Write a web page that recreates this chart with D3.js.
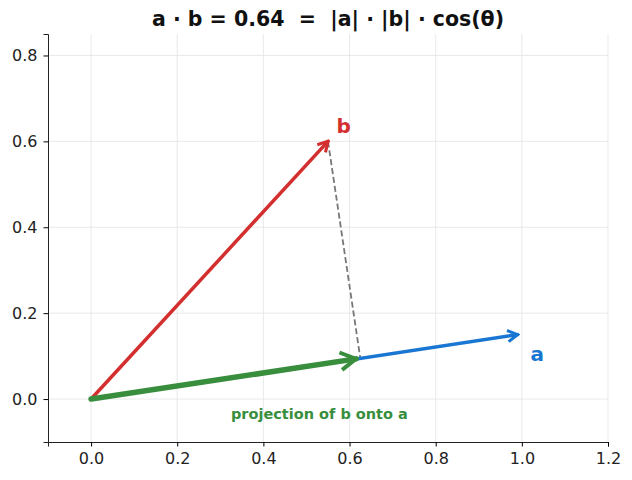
<!DOCTYPE html>
<html><head><meta charset="utf-8">
<script src="https://cdn.jsdelivr.net/npm/d3@7"></script>
<style>body{margin:0;background:#fff}text{font-family:"DejaVu Sans",sans-serif}</style>
</head><body><svg id="c" width="632" height="480"></svg>
<script>
// vectors
const vecA = [0.99, 0.15];
const vecB = [0.55, 0.60];
const projB = [0.625, 0.095];
const xTicks = [0, 0.2, 0.4, 0.6, 0.8, 1.0, 1.2];
const yTicks = [0, 0.2, 0.4, 0.6, 0.8];

const svg = d3.select('#c');
const x = d3.scaleLinear().domain([-0.1, 1.2]).range([48, 608]);
const y = d3.scaleLinear().domain([-0.1, 0.85]).range([442, 34]);

// grid
svg.append('g').selectAll('line').data(xTicks).join('line')
  .attr('x1', d => x(d)).attr('x2', d => x(d)).attr('y1', 34).attr('y2', 442)
  .attr('stroke', '#e3e3e3').attr('stroke-width', 0.8);
svg.append('g').selectAll('line').data(yTicks).join('line')
  .attr('y1', d => y(d)).attr('y2', d => y(d)).attr('x1', 48).attr('x2', 608)
  .attr('stroke', '#e3e3e3').attr('stroke-width', 0.8);

const xAxis = svg.append('g').attr('transform', 'translate(0,442)')
  .call(d3.axisBottom(x).tickValues(xTicks).tickFormat(d3.format('.1f')).tickSize(4.5).tickPadding(6));
const yAxis = svg.append('g').attr('transform', 'translate(48,0)')
  .call(d3.axisLeft(y).tickValues(yTicks).tickFormat(d3.format('.1f')).tickSize(4.5).tickPadding(6));
[xAxis, yAxis].forEach(g => {
  g.selectAll('text').attr('font-size', 16).attr('fill', '#222').style('font-family', '"DejaVu Sans",sans-serif');
  g.select('.domain').attr('stroke', '#222');
});

const defs = svg.append('defs');
function marker(id, color, sw) {
  defs.append('marker').attr('id', id).attr('viewBox', '0 0 10 10').attr('refX', 8.5).attr('refY', 5)
    .attr('markerWidth', 4).attr('markerHeight', 4).attr('orient', 'auto').attr('markerUnits', 'strokeWidth')
    .append('path').attr('d', 'M1.5,1 L8.5,5 L1.5,9').attr('fill', 'none').attr('stroke', color)
    .attr('stroke-width', sw).attr('stroke-linejoin', 'miter');
}
marker('mr', '#d32f2f', 2.2); marker('mb', '#1976d2', 2.2); marker('mg', '#388e3c', 1.8);

function arrow(v, color, w, m) {
  svg.append('line').attr('x1', x(0)).attr('y1', y(0)).attr('x2', x(v[0])).attr('y2', y(v[1]))
    .attr('stroke', color).attr('stroke-width', w).attr('stroke-linecap', 'round').attr('marker-end', `url(#${m})`);
}
// dashed perpendicular
svg.append('line').attr('x1', x(vecB[0])).attr('y1', y(vecB[1])).attr('x2', x(projB[0])).attr('y2', y(projB[1]))
  .attr('stroke', '#777').attr('stroke-width', 1.8).attr('stroke-dasharray', '6,3');
arrow(vecA, '#1976d2', 3.5, 'mb');
arrow(vecB, '#d32f2f', 3.5, 'mr');
arrow([projB[0] - 0.01, projB[1] - 0.0015], '#388e3c', 5.5, 'mg');

svg.append('text').attr('x', x(0.57)).attr('y', y(0.635)).attr('dy', '0.35em').text('b')
  .attr('fill', '#d32f2f').attr('font-size', 20).attr('font-weight', 'bold');
svg.append('text').attr('x', x(1.02)).attr('y', y(0.105)).attr('dy', '0.35em').text('a')
  .attr('fill', '#1976d2').attr('font-size', 20).attr('font-weight', 'bold');
svg.append('text').attr('x', x(0.53)).attr('y', y(-0.035)).attr('dy', '0.35em').attr('text-anchor', 'middle')
  .text('projection of b onto a').attr('fill', '#388e3c').attr('font-size', 14.5).attr('font-weight', 'bold');

svg.append('text').attr('x', 328).attr('y', 26).attr('text-anchor', 'middle')
  .text('a · b = 0.64  =  |a| · |b| · cos(θ)').attr('font-size', 20.5).attr('font-weight', 'bold')
  .style('white-space', 'pre').attr('fill', '#111');
</script></body></html>
